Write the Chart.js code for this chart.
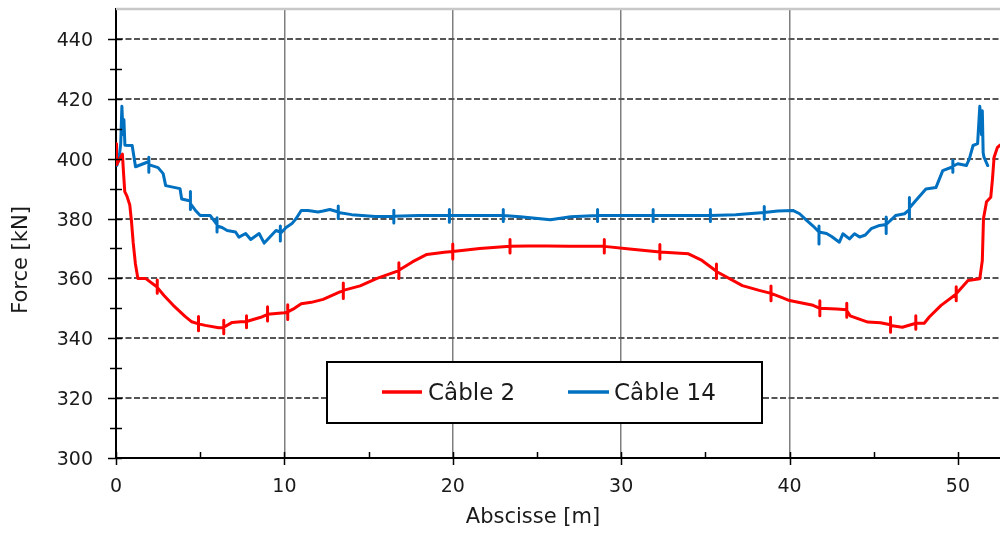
<!DOCTYPE html>
<html lang="fr">
<head>
<meta charset="UTF-8">
<title>Force dans les câbles</title>
<script src="https://cdn.jsdelivr.net/npm/chart.js@4.4.1/dist/chart.umd.min.js"></script>
<style>
    html, body { margin: 0; padding: 0; background: #fff; }
    #wrap { width: 1000px; height: 533px; }
</style>
</head>
<body>
<div id="wrap"><canvas id="chart" width="1000" height="533"></canvas></div>
<script>
// Câble 2 (red) - abscissa [m] and force [kN]; the short vertical jags are kept as repeated x values
const cable2X = [0.00, 0.03, 0.38, 0.45, 0.52, 0.65, 0.82, 0.92, 1.02, 1.15, 1.30, 1.75, 2.40,
    2.45, 2.45, 2.45, 2.45, 2.85, 3.40, 4.10, 4.50,
    4.90, 4.90, 4.90, 4.90, 5.30, 6.10,
    6.40, 6.40, 6.40, 6.40, 6.90, 7.40,
    7.75, 7.75, 7.75, 7.75, 8.60,
    9.00, 9.00, 9.00, 9.00, 10.00,
    10.20, 10.20, 10.20, 10.20, 10.60, 11.00, 11.60, 12.30, 12.90, 13.30,
    13.50, 13.50, 13.50, 13.50, 14.50, 15.50,
    16.80, 16.80, 16.80, 16.80, 17.60, 18.46, 19.50,
    20.00, 20.00, 20.00, 20.00, 21.60,
    23.40, 23.40, 23.40, 23.40, 24.50, 25.60, 26.90,
    29.00, 29.00, 29.00, 29.00, 30.50,
    32.30, 32.30, 32.30, 32.30, 34.00, 34.80,
    35.66, 35.66, 35.66, 35.66, 37.20, 38.20,
    38.90, 38.90, 38.90, 38.90, 39.60, 40.00, 41.40,
    41.80, 41.80, 41.80, 41.80, 42.80,
    43.40, 43.40, 43.40, 43.40, 43.60, 44.65, 45.40,
    46.00, 46.00, 46.00, 46.00, 46.70,
    47.50, 47.50, 47.50, 47.50, 48.00, 48.30, 49.00,
    49.90, 49.90, 49.90, 49.90, 50.60, 51.30, 51.45, 51.52, 51.70, 51.95, 52.05, 52.15, 52.35, 52.50];
const cable2Y = [405, 398, 401.5, 395, 389, 387.5, 384.5, 379, 372, 365, 360, 360, 357.3,
    357.2, 359.5, 355, 357, 354.3, 351, 347.3, 345.5,
    344.8, 347.3, 342.5, 344.8, 344.3, 343.5,
    343.6, 346, 341.5, 343.7, 345.3, 345.5,
    345.6, 347.5, 343.5, 345.6, 347,
    348, 350.5, 345.8, 348, 348.5,
    348.7, 351.2, 346.3, 348.8, 350, 351.5, 352, 353, 354.5, 355.5,
    355.8, 358.5, 353.3, 356, 357.5, 360,
    362.6, 365.2, 360, 362.7, 365.5, 368, 368.7,
    369, 371.5, 366.5, 369, 370,
    370.7, 373, 368.5, 370.7, 370.8, 370.8, 370.7,
    370.8, 373, 368.5, 370.7, 369.8,
    368.8, 371.3, 366.5, 368.8, 368.2, 366,
    362.4, 364.8, 360, 362.3, 357.6, 356,
    355, 357.5, 352.5, 355, 353.5, 352.6, 351,
    350, 352.5, 347.5, 350, 349.8,
    349.5, 351.7, 347, 349.3, 347.5, 345.4, 345.2,
    344.5, 347, 342, 344.3, 343.7,
    345, 347.5, 343, 345, 345, 347.1, 351,
    354.8, 357.2, 352.5, 354.9, 359.3, 359.9, 366, 380, 385.6, 387.1, 393, 400.5, 403.8, 404.5];

// Câble 14 (blue)
const cable14X = [0.05, 0.18, 0.28, 0.35, 0.42, 0.47, 0.53, 0.96, 1.16, 1.85,
    1.95, 1.95, 1.95, 1.95, 2.50, 2.80, 2.95, 3.80, 3.90, 4.30,
    4.42, 4.42, 4.42, 4.42, 4.75, 5.00, 5.60,
    6.00, 6.00, 6.00, 6.00, 6.30, 6.60, 7.10, 7.30, 7.70, 8.00, 8.50, 8.80, 9.00, 9.50,
    9.76, 9.76, 9.76, 9.76, 10.10, 10.45, 10.70, 11.00, 11.40, 12.00, 12.30, 12.70,
    13.20, 13.20, 13.20, 13.20, 14.00, 15.40,
    16.50, 16.50, 16.50, 16.50, 18.00,
    19.80, 19.80, 19.80, 19.80, 21.50,
    23.00, 23.00, 23.00, 23.00, 24.00, 25.80, 27.00,
    28.60, 28.60, 28.60, 28.60, 30.20,
    31.90, 31.90, 31.90, 31.90, 33.60,
    35.30, 35.30, 35.30, 35.30, 36.80,
    38.50, 38.50, 38.50, 38.50, 39.30, 40.20, 40.60, 41.00, 41.40,
    41.75, 41.75, 41.75, 41.75, 42.20, 42.50, 42.96, 43.17, 43.56, 43.86, 44.16, 44.50, 44.85, 45.35,
    45.74, 45.74, 45.74, 45.74, 46.30, 46.83,
    47.12, 47.12, 47.12, 47.12, 47.50, 48.10, 48.70, 49.10,
    49.70, 49.70, 49.70, 49.70, 50.00, 50.50, 50.68, 50.90, 51.17, 51.30, 51.40, 51.45, 51.50, 51.55, 51.77];
const cable14Y = [397.7, 400, 405, 417.5, 408, 413, 404.5, 404.4, 397.3, 398.8,
    398.5, 400.5, 395.5, 398, 397, 395, 391, 390, 386.5, 386,
    386, 389, 383, 385, 382.5, 381, 381,
    378, 380.3, 375.5, 377.5, 377, 376, 375.5, 373.8, 375, 373, 375, 371.8, 373, 376,
    375.5, 377.5, 372.5, 375, 377, 378.3, 380, 382.7, 382.7, 382.2, 382.5, 383,
    382.2, 384.2, 380, 382, 381.3, 380.7,
    380.7, 382.8, 378.5, 380.8, 381,
    381, 383, 378.8, 381, 381,
    381, 383, 379, 381, 380.6, 379.6, 380.6,
    381, 383, 379, 381, 381,
    381, 383, 379, 381, 381,
    381, 383, 379, 381, 381.3,
    382, 384, 379.8, 382, 382.5, 382.7, 381.6, 379.5, 377.5,
    375.5, 377.5, 371.5, 375.5, 375, 374, 372.1, 374.9, 373.2, 374.9, 373.8, 374.5, 376.6, 377.7,
    378, 380.5, 375, 378, 381, 381.6,
    383, 387, 380, 383.5, 386, 389.9, 390.4, 396,
    397.3, 399.5, 395.5, 397.5, 398.3, 397.7, 399.9, 404.4, 405, 417.5, 408, 416, 402, 400.5, 397.7];

const seriesNames = ['Câble 2', 'Câble 14'];
const seriesColors = ['#ff0000', '#0070c0'];
const xTickLabels = [0, 10, 20, 30, 40, 50];
const yTickLabels = [300, 320, 340, 360, 380, 400, 420, 440];
const xTitle = 'Abscisse [m]';
const yTitle = 'Force [kN]';

function toPoints(xs, ys) {
    return xs.map((x, i) => ({ x: x, y: ys[i] }));
}

// Extra drawing: tick marks and labels, top frame line, axis titles, boxed legend
const extras = {
    id: 'extras',
    afterDraw(chart) {
        const { ctx, chartArea: a, scales: { x, y } } = chart;
        ctx.save();

        ctx.strokeStyle = '#c8c8c8';
        ctx.lineWidth = 2.5;
        ctx.beginPath();
        ctx.moveTo(a.left, a.top);
        ctx.lineTo(a.right, a.top);
        ctx.stroke();

        ctx.strokeStyle = '#000';
        ctx.lineWidth = 1.5;
        for (let v = 300; v <= 440; v += 10) {
            const py = Math.round(y.getPixelForValue(v)) + 0.5;
            const major = v % 20 === 0;
            ctx.beginPath();
            ctx.moveTo(a.left - (major ? 8 : 6), py);
            ctx.lineTo(a.left + 6, py);
            ctx.stroke();
        }
        for (let v = 0; v <= 50; v += 5) {
            const px = Math.round(x.getPixelForValue(v)) + 0.5;
            const major = v % 10 === 0;
            ctx.beginPath();
            ctx.moveTo(px, a.bottom - 6);
            ctx.lineTo(px, a.bottom + (major ? 7 : 0));
            ctx.stroke();
        }

        ctx.fillStyle = '#1a1a1a';
        ctx.font = '19px "DejaVu Sans"';
        ctx.textBaseline = 'alphabetic';
        ctx.textAlign = 'right';
        yTickLabels.forEach(v => ctx.fillText(String(v), 93, y.getPixelForValue(v) + 7));
        ctx.textAlign = 'center';
        xTickLabels.forEach(v => ctx.fillText(String(v), x.getPixelForValue(v), 492));

        ctx.font = '21px "DejaVu Sans"';
        ctx.textBaseline = 'middle';
        ctx.fillText(xTitle, 533, 518);
        ctx.save();
        ctx.translate(22, 260);
        ctx.rotate(-Math.PI / 2);
        ctx.fillText(yTitle, 0, 0);
        ctx.restore();

        // legend box
        ctx.fillStyle = '#fff';
        ctx.fillRect(327, 362, 435, 61);
        ctx.strokeStyle = '#000';
        ctx.lineWidth = 2;
        ctx.strokeRect(327, 362, 435, 61);
        const items = [{ x0: 382, x1: 422, tx: 428 }, { x0: 568, x1: 609, tx: 614 }];
        ctx.font = '23px "DejaVu Sans"';
        ctx.textAlign = 'left';
        ctx.textBaseline = 'alphabetic';
        items.forEach((it, i) => {
            ctx.strokeStyle = seriesColors[i];
            ctx.lineWidth = 3.5;
            ctx.beginPath();
            ctx.moveTo(it.x0, 392);
            ctx.lineTo(it.x1, 392);
            ctx.stroke();
            ctx.fillStyle = '#1a1a1a';
            ctx.fillText(seriesNames[i], it.tx, 400);
        });
        ctx.restore();
    }
};

const ctx = document.getElementById('chart').getContext('2d');
new Chart(ctx, {
    type: 'line',
    data: {
        datasets: [
            { label: seriesNames[0], data: toPoints(cable2X, cable2Y), borderColor: seriesColors[0] },
            { label: seriesNames[1], data: toPoints(cable14X, cable14Y), borderColor: seriesColors[1] }
        ]
    },
    options: {
        responsive: false,
        animation: false,
        events: [],
        layout: { padding: { top: 9, right: 0, left: 0, bottom: 0 } },
        elements: {
            line: { borderWidth: 3, tension: 0, fill: false, borderJoinStyle: 'round', borderCapStyle: 'round' },
            point: { radius: 0 }
        },
        plugins: { legend: { display: false }, tooltip: { enabled: false } },
        scales: {
            x: {
                type: 'linear',
                min: 0,
                max: 52.5,
                afterFit: s => { s.height = 75; },
                ticks: { display: false, stepSize: 5 },
                grid: {
                    drawTicks: false,
                    lineWidth: 1.5,
                    color: c => (c.tick && c.tick.value % 10 === 0 && c.tick.value > 0 && c.tick.value <= 50) ? '#7f7f7f' : 'rgba(0,0,0,0)'
                },
                border: { color: '#000', width: 2 }
            },
            y: {
                min: 300,
                max: 450,
                afterFit: s => { s.width = 116; },
                ticks: { display: false, stepSize: 10 },
                grid: {
                    drawTicks: false,
                    lineWidth: 2,
                    color: c => (c.tick && c.tick.value % 20 === 0 && c.tick.value > 300 && c.tick.value < 450) ? '#555' : 'rgba(0,0,0,0)'
                },
                border: { color: '#000', width: 2, dash: [6, 2.5] }
            }
        }
    },
    plugins: [extras]
});
</script>
</body>
</html>
